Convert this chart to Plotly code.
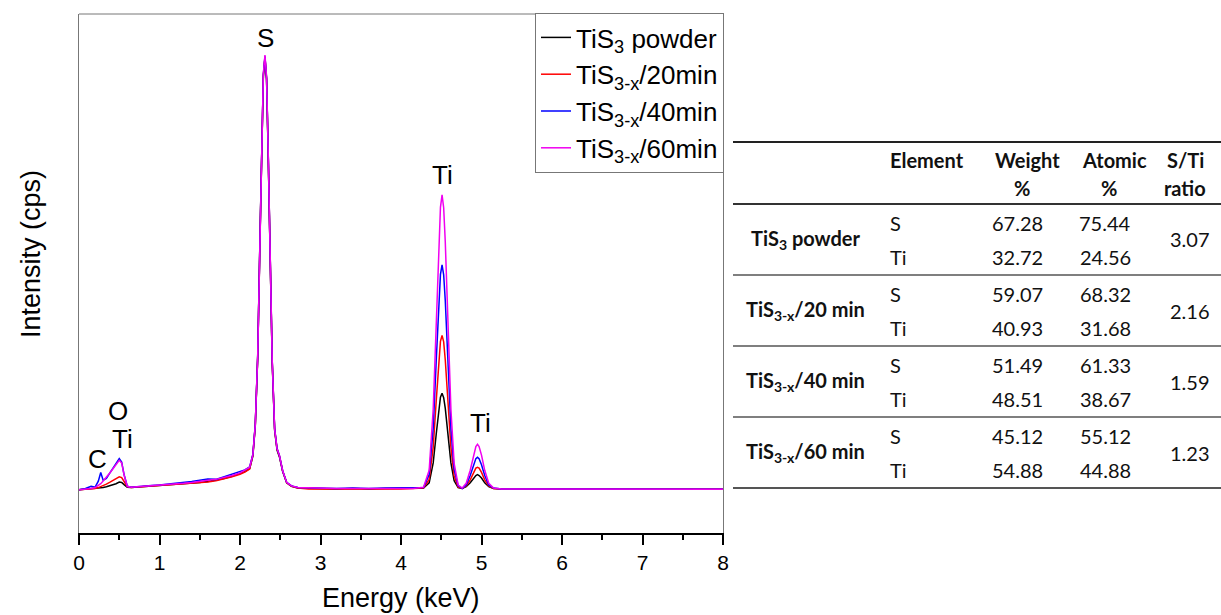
import plotly.graph_objects as go

# ---------------- spectrum data ----------------
energy_keV = [
    0.00, 0.08, 0.15, 0.20, 0.24, 0.27, 0.30, 0.34, 0.38, 0.42, 0.46, 0.50, 0.53, 0.56, 0.60, 0.65, 0.72,
    0.80, 0.90, 1.00, 1.10, 1.20, 1.30, 1.40, 1.50, 1.60, 1.70, 1.80, 1.90, 2.00, 2.06, 2.12,
    2.16, 2.19, 2.22, 2.25, 2.27, 2.29, 2.31, 2.33, 2.35, 2.37, 2.40, 2.43, 2.46, 2.49, 2.53, 2.58, 2.64, 2.72,
    2.85, 3.00, 3.20, 3.40, 3.60, 3.80, 4.00, 4.15,
    4.28, 4.35, 4.40, 4.44, 4.47, 4.49, 4.51, 4.53, 4.55, 4.58, 4.62, 4.66, 4.71, 4.76,
    4.81, 4.86, 4.90, 4.93, 4.95, 4.97, 5.00, 5.04, 5.09, 5.15,
    5.25, 5.40, 5.60, 5.80, 6.00, 6.25, 6.50, 6.75, 7.00, 7.25, 7.50, 7.75, 8.00,
]

tis3_powder = [
    0, 1, 2, 3, 3, 4, 5, 7, 9, 11, 14, 18, 17, 12, 6, 5, 6,
    7, 8, 9, 11, 12, 13, 15, 17, 19, 22, 26, 31, 37, 42, 49,
    78, 148, 305, 595, 805, 955, 998, 948, 778, 565, 295, 138, 92, 76, 42, 16, 8, 4,
    3, 3, 2, 3, 2, 3, 3, 3,
    4, 16, 62, 133, 189, 214, 223, 213, 188, 132, 62, 21, 5, 3,
    7, 16, 27, 33, 35, 33, 27, 16, 7, 3,
    2, 2, 1, 2, 1, 1, 2, 1, 1, 1, 1, 1, 1,
]

tis3x_20min = [
    0, 1, 2, 3, 5, 7, 10, 13, 17, 21, 25, 30, 28, 18, 7, 5, 6,
    7, 8, 9, 10, 12, 13, 14, 16, 18, 21, 25, 30, 36, 41, 48,
    80, 150, 308, 598, 808, 958, 1000, 950, 780, 568, 298, 140, 94, 78, 43, 16, 8, 4,
    2, 2, 2, 1, 2, 2, 2, 3,
    4, 24, 98, 212, 302, 343, 357, 342, 300, 211, 98, 32, 6, 3,
    9, 23, 40, 50, 52, 50, 40, 23, 9, 3,
    2, 1, 1, 1, 1, 1, 1, 1, 1, 1, 1, 1, 1,
]

tis3x_40min = [
    0, 3, 8, 6, 20, 40, 22, 26, 38, 50, 62, 72, 64, 35, 8, 6, 7,
    9, 10, 11, 13, 15, 16, 19, 22, 25, 24, 30, 35, 41, 46, 53,
    82, 152, 310, 600, 810, 960, 1002, 952, 782, 570, 300, 142, 96, 79, 44, 17, 9, 5,
    4, 4, 3, 4, 3, 4, 4, 4,
    5, 35, 142, 308, 438, 498, 520, 497, 437, 307, 142, 47, 9, 3,
    11, 33, 58, 72, 75, 72, 58, 33, 11, 4,
    2, 2, 2, 2, 1, 2, 1, 2, 1, 1, 2, 1, 1,
]

tis3x_60min = [
    0, 1, 3, 5, 10, 14, 20, 28, 38, 48, 58, 68, 62, 34, 8, 6, 7,
    8, 9, 10, 12, 14, 15, 17, 20, 22, 24, 28, 33, 39, 45, 52,
    81, 151, 310, 602, 812, 962, 1005, 955, 785, 572, 300, 141, 95, 79, 44, 17, 9, 5,
    4, 3, 3, 3, 3, 4, 3, 3,
    6, 45, 186, 403, 574, 653, 682, 652, 573, 402, 186, 61, 11, 4,
    15, 45, 80, 100, 105, 100, 80, 45, 15, 4,
    2, 2, 2, 1, 2, 1, 2, 1, 2, 1, 1, 1, 1,
]

series_names = ["TiS<sub>3</sub> powder", "TiS<sub>3-x</sub>/20min",
                "TiS<sub>3-x</sub>/40min", "TiS<sub>3-x</sub>/60min"]
series_values = [tis3_powder, tis3x_20min, tis3x_40min, tis3x_60min]
series_colors = ["#000000", "#ff0000", "#0000ff", "#f000f0"]

# peak labels
peak_labels = ["S", "Ti", "Ti", "O", "Ti", "C"]
peak_label_x = [2.32, 4.52, 4.99, 0.48, 0.54, 0.23]
peak_label_y = [1045, 728, 155, 182, 118, 70]

x_ticks = [0, 1, 2, 3, 4, 5, 6, 7, 8]

# ---------------- table data ----------------
table_samples = ["TiS<sub>3</sub> powder", "TiS<sub>3-x</sub>/20 min",
                 "TiS<sub>3-x</sub>/40 min", "TiS<sub>3-x</sub>/60 min"]
table_elements = ["S", "Ti"]
weight_pct = [[67.28, 32.72], [59.07, 40.93], [51.49, 48.51], [45.12, 54.88]]
atomic_pct = [[75.44, 24.56], [68.32, 31.68], [61.33, 38.67], [55.12, 44.88]]
s_ti_ratio = [3.07, 2.16, 1.59, 1.23]
header_line1 = ["Element", "Weight", "Atomic", "S/Ti"]
header_line2 = ["", "%", "%", "ratio"]

for v in series_values:
    assert len(v) == len(energy_keV)

# ---------------- layout constants ----------------
W, H = 1221, 615
ML, MR, MT, MB = 79, 498, 14, 82
PW, PH = W - ML - MR, H - MT - MB
Y_RANGE = [-100, 1100]

def paper(px, py):
    return (px - ML) / PW, (H - MB - py) / PH

FONT = "Liberation Sans, Arial, sans-serif"
TFONT = "Lato, Calibri, sans-serif"

fig = go.Figure()
for name, vals, col in zip(series_names, series_values, series_colors):
    fig.add_trace(go.Scatter(x=energy_keV, y=vals, mode="lines", name=name,
                             line=dict(color=col, width=1.5)))

annotations = []
for t, x, y in zip(peak_labels, peak_label_x, peak_label_y):
    annotations.append(dict(x=x, y=y, xref="x", yref="y", text=t, showarrow=False,
                            font=dict(family=FONT, size=26, color="black"),
                            xanchor="center", yanchor="middle"))

# axis titles
tx, ty = paper(401, 598)
annotations.append(dict(x=tx, y=ty, xref="paper", yref="paper", text="Energy (keV)",
                        showarrow=False, xanchor="center", yanchor="middle",
                        font=dict(family=FONT, size=27, color="black")))
tx, ty = paper(31, 254)
annotations.append(dict(x=tx, y=ty, xref="paper", yref="paper", text="Intensity (cps)",
                        showarrow=False, xanchor="center", yanchor="middle", textangle=-90,
                        font=dict(family=FONT, size=27, color="black")))

# table geometry (pixels)
T_X0, T_X1 = 733, 1221
T_TOP, T_HEAD = 142, 204
GROUP_H = 71
col_label = 805
col_elem = 888
col_weight = 1017
col_atomic = 1105
col_ratio = 1190
head_center = [None, 1027, 1114, 1185]

shapes = []
def hrule(py, width, color):
    x0, y0 = paper(T_X0, py)
    x1, _ = paper(T_X1, py)
    shapes.append(dict(type="line", xref="paper", yref="paper", x0=x0, x1=x1, y0=y0, y1=y0,
                       line=dict(color=color, width=width)))

hrule(T_TOP, 2.2, "#222222")
hrule(T_HEAD, 2.2, "#333333")
for g in range(len(table_samples)):
    hrule(T_HEAD + GROUP_H * (g + 1), 2 if g == len(table_samples) - 1 else 1.6, "#555555")

def tann(px, py, text, size=20, bold=False, xanchor="center"):
    x, y = paper(px, py)
    annotations.append(dict(x=x, y=y, xref="paper", yref="paper",
                            text=("<b>%s</b>" % text) if bold else text,
                            showarrow=False, xanchor=xanchor, yanchor="middle",
                            font=dict(family=TFONT, size=size, color="#111111")))

# header
tann(col_elem, 160, header_line1[0], bold=True, xanchor="left")
for i in range(1, 4):
    tann(head_center[i], 160, header_line1[i], bold=True)
    tann(head_center[i] - (5 if header_line2[i] == "%" else 0), 188, header_line2[i], bold=True)

for g, sample in enumerate(table_samples):
    gy0 = T_HEAD + GROUP_H * g
    tann(col_label, gy0 + GROUP_H / 2, sample, bold=True)
    tann(col_ratio, gy0 + GROUP_H / 2, "%.2f" % s_ti_ratio[g])
    for r, el in enumerate(table_elements):
        ry = gy0 + GROUP_H * (0.27 + 0.48 * r)
        tann(col_elem, ry, el, xanchor="left")
        tann(col_weight, ry, "%.2f" % weight_pct[g][r])
        tann(col_atomic, ry, "%.2f" % atomic_pct[g][r])

# top frame line of the plot box
shapes.append(dict(type="line", xref="x domain", yref="y domain", x0=0, x1=1, y0=1, y1=1,
                   line=dict(color="#777777", width=1)))

lx, ly = paper(724, 13)
fig.update_layout(
    width=W, height=H,
    margin=dict(l=ML, r=MR, t=MT, b=MB, autoexpand=False),
    paper_bgcolor="white", plot_bgcolor="white",
    showlegend=True,
    legend=dict(x=lx, y=ly, xanchor="right", yanchor="top",
                bgcolor="white", bordercolor="#777777", borderwidth=1,
                font=dict(family=FONT, size=26, color="black"),
                tracegroupgap=0),
    xaxis=dict(range=[0, 8], tickvals=x_ticks, ticktext=[str(t) for t in x_ticks],
               ticks="outside", ticklen=10, tickwidth=1.5, tickcolor="black",
               showline=True, linecolor="black", linewidth=1.5,
               showgrid=False, zeroline=False,
               minor=dict(ticks="outside", ticklen=5, tickwidth=1.5, tickcolor="black", dtick=0.5,
                          showgrid=False),
               tickfont=dict(family=FONT, size=21, color="black")),
    yaxis=dict(range=Y_RANGE, showticklabels=False, ticks="",
               showline=True, linecolor="#777777", linewidth=1, mirror=True,
               showgrid=False, zeroline=False),
    annotations=annotations,
    shapes=shapes,
)

fig.write_html("out.html", config={"displayModeBar": False},
               post_script="document.body.style.margin='0px';")
